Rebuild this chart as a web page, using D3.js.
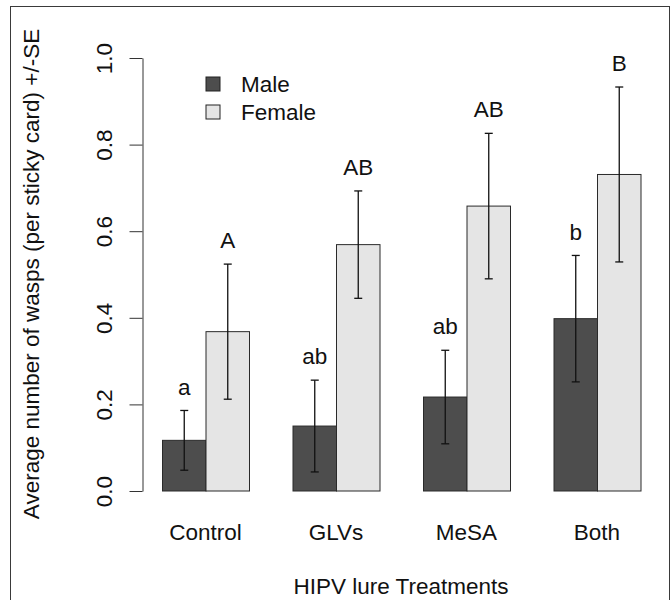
<!DOCTYPE html>
<html>
<head>
<meta charset="utf-8">
<script src="https://cdn.jsdelivr.net/npm/d3@7"></script>
<style>
  body { margin: 0; background: #fff; }
  svg { display: block; font-family: "Liberation Sans", Arial, Helvetica, sans-serif; }
</style>
</head>
<body>
<svg id="chart" width="672" height="600"></svg>
<script>
// ---- data ----
const categories = ["Control", "GLVs", "MeSA", "Both"];
const series = ["Male", "Female"];
const maleMean = [0.117, 0.150, 0.217, 0.398];
const maleSE = [0.069, 0.106, 0.108, 0.146];
const femaleMean = [0.368, 0.569, 0.658, 0.731];
const femaleSE = [0.156, 0.124, 0.168, 0.202];
const maleLetters = ["a", "ab", "ab", "b"];
const femaleLetters = ["A", "AB", "AB", "B"];
const yTicks = [0, 0.2, 0.4, 0.6, 0.8, 1.0];
const colors = ["#4d4d4d", "#e5e5e5"];

const FS = 22.5;

const rows = [];
categories.forEach((c, i) => {
  rows.push({ cat: c, s: "Male", mean: maleMean[i], se: maleSE[i], letter: maleLetters[i] });
  rows.push({ cat: c, s: "Female", mean: femaleMean[i], se: femaleSE[i], letter: femaleLetters[i] });
});

const svg = d3.select("#chart");

// frame
svg.append("rect").attr("x", 10.5).attr("y", 6.5).attr("width", 659).attr("height", 620)
  .attr("fill", "none").attr("stroke", "#3a3a3a").attr("stroke-width", 1);

const x0 = d3.scaleBand().domain(categories).range([162, 640.5]).paddingInner(1/3).paddingOuter(0);
const x1 = d3.scaleBand().domain(series).range([0, x0.bandwidth()]);
const y = d3.scaleLinear().domain([0, 1]).range([491, 58]);
const color = d3.scaleOrdinal().domain(series).range(colors);

// bars
svg.append("g").selectAll("rect").data(rows).join("rect")
  .attr("x", d => x0(d.cat) + x1(d.s) + 0.5)
  .attr("y", d => y(d.mean))
  .attr("width", x1.bandwidth())
  .attr("height", d => y(0) - y(d.mean))
  .attr("fill", d => color(d.s))
  .attr("stroke", "#2a2a2a").attr("stroke-width", 1);

// error bars
const eb = svg.append("g").attr("stroke", "#111").attr("stroke-width", 1.3);
rows.forEach(d => {
  const cx = x0(d.cat) + x1(d.s) + x1.bandwidth() / 2 + 0.5;
  const yt = y(d.mean + d.se), yb = y(d.mean - d.se);
  eb.append("line").attr("x1", cx).attr("x2", cx).attr("y1", yt).attr("y2", yb);
  eb.append("line").attr("x1", cx - 4).attr("x2", cx + 4).attr("y1", yt).attr("y2", yt);
  eb.append("line").attr("x1", cx - 4).attr("x2", cx + 4).attr("y1", yb).attr("y2", yb);
});

// letters
svg.append("g").selectAll("text").data(rows).join("text")
  .attr("x", d => x0(d.cat) + x1(d.s) + x1.bandwidth() / 2 + 0.5)
  .attr("y", d => y(d.mean + d.se + 0.055))
  .attr("dy", "0.35em")
  .attr("text-anchor", "middle")
  .attr("font-size", FS).attr("fill", "#111")
  .text(d => d.letter);

// y axis
const yAxis = svg.append("g").attr("transform", "translate(142.5,0)")
  .call(d3.axisLeft(y).tickValues(yTicks).tickFormat(d3.format(".1f")).tickSize(13).tickSizeOuter(0));
yAxis.select(".domain").attr("stroke", "#333");
yAxis.selectAll(".tick line").attr("stroke", "#333");
yAxis.selectAll(".tick text")
  .attr("x", 0).attr("y", 0).attr("dy", "0.35em")
  .attr("transform", "translate(-38,0) rotate(-90)")
  .attr("text-anchor", "middle")
  .attr("font-size", FS).attr("fill", "#111")
  .attr("font-family", "Liberation Sans, Arial, sans-serif");

// x category labels
svg.append("g").selectAll("text").data(categories).join("text")
  .attr("x", d => x0(d) + x0.bandwidth() / 2)
  .attr("y", 532).attr("dy", "0.35em")
  .attr("text-anchor", "middle").attr("font-size", FS).attr("fill", "#111")
  .text(d => d);

// axis titles
svg.append("text").attr("x", 401).attr("y", 586).attr("dy", "0.35em")
  .attr("text-anchor", "middle").attr("font-size", FS).attr("fill", "#111")
  .text("HIPV lure Treatments");
svg.append("text").attr("transform", "translate(31,274) rotate(-90)").attr("dy", "0.35em")
  .attr("text-anchor", "middle").attr("font-size", FS).attr("fill", "#111")
  .text("Average number of wasps (per sticky card) +/-SE");

// legend
const leg = svg.append("g").selectAll("g").data(series).join("g")
  .attr("transform", (d, i) => `translate(206,${84 + i * 28})`);
leg.append("rect").attr("x", 0).attr("y", -7).attr("width", 14).attr("height", 14)
  .attr("fill", d => color(d)).attr("stroke", "#222").attr("stroke-width", 1);
leg.append("text").attr("x", 35).attr("y", 0).attr("dy", "0.35em")
  .attr("font-size", FS).attr("fill", "#111").text(d => d);
</script>
</body>
</html>
